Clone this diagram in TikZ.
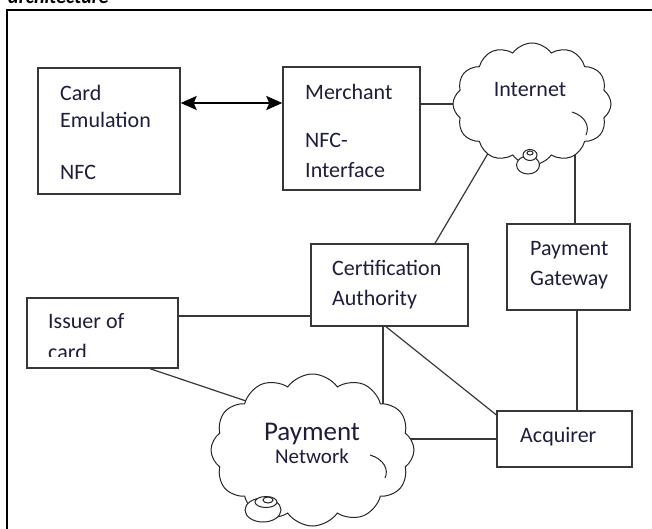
\documentclass[tikz,border=0pt]{standalone}
\usepackage{fontspec}
\setmainfont{Carlito}
\usetikzlibrary{shapes.symbols,arrows.meta}
\definecolor{ink}{RGB}{30,30,60}
\definecolor{edge}{RGB}{55,55,55}
\pgfdeclarelayer{bg}
\pgfsetlayers{bg,main}
\begin{document}
\begin{tikzpicture}[x=1pt,y=-1pt,
 box/.style={draw=edge,line width=1.4pt,rectangle,inner sep=0pt,fill=white},
 txt/.style={anchor=base west,inner sep=0pt,text=ink,font=\fontsize{22}{26}\selectfont},
 ctxt/.style={anchor=base,inner sep=0pt,text=ink},
 cloudshape/.style={cloud,cloud ignores aspect,draw=black!85,line width=1pt,fill=white,cloud puffs=12,cloud puff arc=110,inner sep=0pt},
 conn/.style={draw=edge,line width=1.2pt},
 bubble/.style={draw=black!85,line width=1pt,fill=white}]
\useasboundingbox (0,0) rectangle (652,529);
\begin{scope}
\clip (0,0) rectangle (652,529);
\node[anchor=base west,inner sep=0pt,font=\fontsize{20}{24}\selectfont\bfseries\itshape] (hdr) at (8,4) {architecture};
\draw[line width=1.8pt] (7,10) rectangle (680,560);
\end{scope}

% boxes
\node[box,minimum width=142pt,minimum height=126pt] (card) at (109,131) {};
\node[box,minimum width=137pt,minimum height=123pt] (merch) at (351.5,128.5) {};
\node[box,minimum width=123pt,minimum height=86pt] (gw) at (568.5,267) {};
\node[box,minimum width=157pt,minimum height=82pt] (ca) at (389.5,285) {};
\node[box,minimum width=151pt,minimum height=70pt] (iss) at (102.5,333) {};
\node[box,minimum width=135pt,minimum height=56pt] (acq) at (564.5,439) {};

% clouds
\node[cloudshape,minimum width=158pt,minimum height=122pt] (inet) at (532,104) {};
\node[cloudshape,minimum width=203pt,minimum height=152pt] (pn) at (312.5,450) {};

% cloud inner strokes
\draw[black!85,line width=1pt] (572,112) .. controls (585,116) and (590,126) .. (586,135);
\draw[black!85,line width=1pt] (370,455) .. controls (384,459) and (389,470) .. (385,478);
% bubbles
\draw[bubble] (528,165) ellipse [x radius=11.5pt, y radius=9pt];
\draw[bubble] (530,155) ellipse [x radius=7pt, y radius=5.5pt];
\draw[bubble] (530,153) ellipse [x radius=3pt, y radius=2pt];
\draw[bubble] (263,510) ellipse [x radius=18pt, y radius=12pt];
\draw[bubble] (266,502) ellipse [x radius=11pt, y radius=5.5pt];
\draw[bubble] (268,500) ellipse [x radius=5pt, y radius=3pt];

% texts
\node[txt] (t1) at (60,101) {Card};
\node[txt] (t2) at (60,128) {Emulation};
\node[txt] (t3) at (60,180) {NFC};
\node[txt] (t4) at (305,100) {Merchant};
\node[txt] (t5) at (305,148) {NFC-};
\node[txt] (t6) at (305,178) {Interface};
\node[ctxt,font=\fontsize{22}{26}\selectfont] (t7) at (530,97) {Internet};
\node[txt] (t8) at (530,255) {Payment};
\node[txt] (t9) at (530,285) {Gateway};
\node[txt] (t10) at (332,275) {Certification};
\node[txt] (t11) at (332,305) {Authority};
\node[txt] (t12) at (48,328) {Issuer of};
\begin{scope}
\clip (27,330) rectangle (178,356.5);
\node[txt] (t13) at (48,359) {card};
\end{scope}
\node[ctxt,font=\fontsize{27}{30}\selectfont] (t14) at (312,440) {Payment};
\node[ctxt,font=\fontsize{21}{24}\selectfont] (t15) at (312,463) {Network};
\node[txt] (t16) at (520,442) {Acquirer};

% contact points inside clouds (hidden by cloud fill)
\coordinate (inetCA) at (490,150);
\coordinate (inetGW) at (575,135);
\coordinate (pnIss) at (258,405);
\coordinate (pnCA) at (383,405);

% connectors
\draw[draw=black,line width=2.2pt,{Stealth[length=16pt,width=14pt,inset=3pt]}-{Stealth[length=16pt,width=14pt,inset=3pt]}]
  ([yshift=28pt]card.east) coordinate (arrL) -- (arrL -| merch.west);
\begin{pgfonlayer}{bg}
\draw[conn] (merch.east |- inet.west) -- (inet.center);
\draw[conn] (inetCA) -- ([xshift=45.5pt]ca.north);
\draw[conn] (inetGW) -- (inetGW |- gw.north);
\draw[conn] ([yshift=17pt]iss.east) coordinate (issR) -- (issR -| ca.west);
\draw[conn] ([xshift=47.5pt]iss.south) -- (pnIss);
\draw[conn] (pnCA |- ca.south) -- (pnCA);
\draw[conn] ([xshift=-3.5pt]ca.south) -- ([xshift=3pt,yshift=-7pt]acq.north west);
\draw[conn] (pn.center |- acq.west) -- (acq.west);
\draw[conn] ([xshift=8.5pt]gw.south) coordinate (gwB) -- (gwB |- acq.north);
\end{pgfonlayer}
\end{tikzpicture}
\end{document}
